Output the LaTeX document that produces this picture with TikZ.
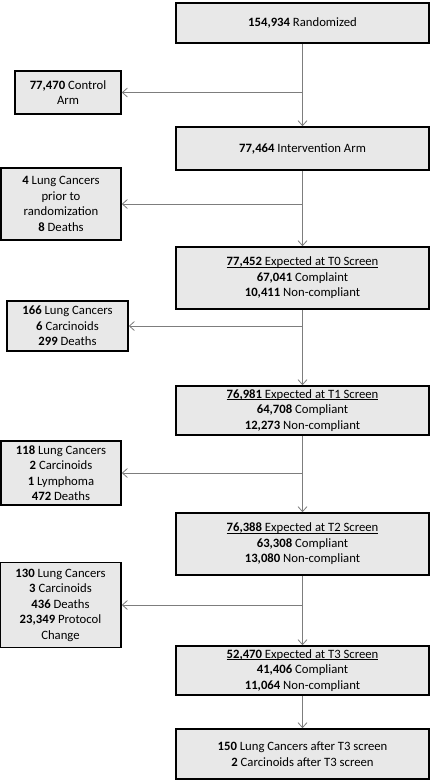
\documentclass[tikz,border=0pt]{standalone}
\usepackage{fontspec}
\setmainfont{Carlito}
\usetikzlibrary{arrows.meta}
\definecolor{boxgray}{RGB}{232,232,232}
\definecolor{linegray}{RGB}{125,125,125}
\newsavebox\headbox
\newcommand{\headline}[1]{\sbox\headbox{#1}\rlap{\rule[-1.7pt]{\wd\headbox}{0.6pt}}\usebox\headbox}
\tikzset{
    stage/.style={draw, fill=boxgray, line width=1.6pt, inner sep=0pt, align=center,
        minimum width=253pt, font=\fontsize{12.7}{15.5}\selectfont},
    loss/.style={stage, minimum width=#1},
    flow/.style={draw=linegray, line width=0.8pt, -{Straight Barb[length=5pt,width=9pt]}}
}
\begin{document}
\begin{tikzpicture}[x=1pt,y=-1pt]
    \useasboundingbox (0,0) rectangle (430,780);
    % main column
    \node[stage, minimum height=40pt] (rand) at (302.5,23) {\textbf{154,934} Randomized};
    \node[stage, minimum height=43pt] (interv) at (302.5,148.5) {\textbf{77,464} Intervention Arm};
    \node[stage, minimum height=62pt] (t0) at (302.5,278) {\headline{\textbf{77,452} Expected at T0 Screen}\\\textbf{67,041} Complaint\\\textbf{10,411} Non-compliant};
    \node[stage, minimum height=49pt] (t1) at (302.5,410.5) {\headline{\textbf{76,981} Expected at T1 Screen}\\\textbf{64,708} Compliant\\\textbf{12,273} Non-compliant};
    \node[stage, minimum height=62pt] (t2) at (302.5,544) {\headline{\textbf{76,388} Expected at T2 Screen}\\\textbf{63,308} Compliant\\\textbf{13,080} Non-compliant};
    \node[stage, minimum height=49pt] (t3) at (302.5,670.5) {\headline{\textbf{52,470} Expected at T3 Screen}\\\textbf{41,406} Compliant\\\textbf{11,064} Non-compliant};
    \node[stage, minimum height=50pt] (final) at (302.5,754) {\textbf{150} Lung Cancers after T3 screen\\\textbf{2} Carcinoids after T3 screen};
    % losses on the left
    \node[loss=106pt, minimum height=43pt] (ctrl) at (68,92.5) {\textbf{77,470} Control\\Arm};
    \node[loss=120pt, minimum height=72pt] (prior) at (61,204) {\textbf{4} Lung Cancers\\prior to\\randomization\\\textbf{8} Deaths};
    \node[loss=121pt, minimum height=50pt] (lost0) at (67.5,326) {\textbf{166} Lung Cancers\\\textbf{6} Carcinoids\\\textbf{299} Deaths};
    \node[loss=120pt, minimum height=64pt] (lost1) at (61,473) {\textbf{118} Lung Cancers\\\textbf{2} Carcinoids\\\textbf{1} Lymphoma\\\textbf{472} Deaths};
    \node[loss=121pt, minimum height=85pt] (lost2) at (60.5,605) {\textbf{130} Lung Cancers\\\textbf{3} Carcinoids\\\textbf{436} Deaths\\\textbf{23,349} Protocol\\Change};
    % branch points
    \coordinate (b0) at (rand.south |- ctrl.east);
    \coordinate (b1) at (interv.south |- prior.east);
    \coordinate (b2) at (t0.south |- lost0.east);
    \coordinate (b3) at (t1.south |- lost1.east);
    \coordinate (b4) at (t2.south |- lost2.east);
    % arrows
    \draw[flow] (rand) -- (interv);
    \draw[flow] (interv) -- (t0);
    \draw[flow] (t0) -- (t1);
    \draw[flow] (t1) -- (t2);
    \draw[flow] (t2) -- (t3);
    \draw[flow] (t3) -- (final);
    \draw[flow] (b0) -- (ctrl);
    \draw[flow] (b1) -- (prior);
    \draw[flow] (b2) -- (lost0);
    \draw[flow] (b3) -- (lost1);
    \draw[flow] (b4) -- (lost2);
\end{tikzpicture}
\end{document}
